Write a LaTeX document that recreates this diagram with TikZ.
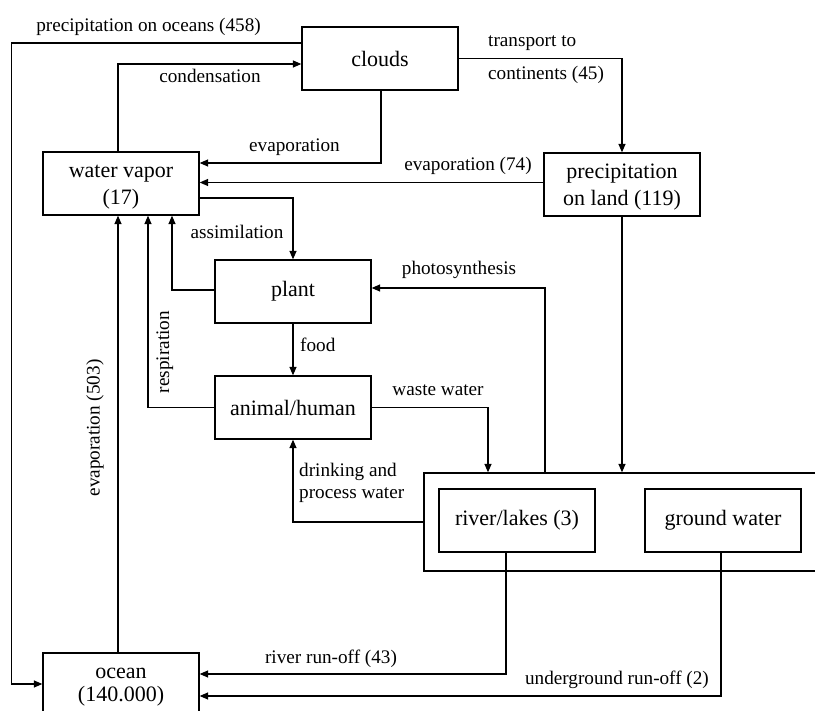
\documentclass[tikz,border=0pt]{standalone}
\usepackage{fontspec}
\setmainfont{Liberation Serif}
\usetikzlibrary{arrows.meta}
\newcommand{\topstrut}{\rule{0pt}{20pt}}
\tikzset{
  box/.style={draw, line width=1.3pt, minimum width=156pt, minimum height=63pt, inner sep=0pt, align=center, font=\fontsize{22}{26.5}\selectfont},
  lab/.style={inner sep=0pt, font=\fontsize{19.2}{23}\selectfont},
  arr/.style={line width=1.3pt, -{Triangle[length=8.5pt,width=7pt]}}
}
\begin{document}
\begin{tikzpicture}[x=1pt,y=-1pt]
\clip (0,0) rectangle (815,711);
\fill[white] (0,0) rectangle (815,711);
% nodes
\node[box] (clouds) at (380,58.5) {clouds};
\node[box] (wv) at (121,183.5) {\topstrut water vapor\\(17)};
\node[box] (pol) at (622,184.5) {\topstrut precipitation\\on land (119)};
\node[box] (plant) at (293,291.5) {plant};
\node[box] (animal) at (293,407.5) {animal/human};
\node[draw, line width=1.3pt, minimum width=392pt, minimum height=98pt, inner sep=0pt] (outer) at (620,522) {};
\node[box] (river) at (517,520.5) {river/lakes (3)};
\node[box] (ground) at (723,520.5) {ground water};
\node[box, minimum height=69pt, font=\fontsize{22}{23}\selectfont] (ocean) at (121,687.5) {ocean\\(140.000)};
% connectors
\draw[arr] ([yshift=15.5pt]clouds.west) -| ([xshift=-31pt,yshift=3.5pt]ocean.west) -- ([yshift=3.5pt]ocean.west);
\draw[arr] ([xshift=-3pt]wv.north) |- ([yshift=-5.5pt]clouds.west);
\draw[arr] ([xshift=1pt]clouds.south) |- ([yshift=20.5pt]wv.east);
\draw[arr] ([yshift=2pt]pol.west) -- ([yshift=2pt]pol.west -| wv.east);
\draw[arr] (clouds.east) -| (pol.north);
\draw[arr] ([yshift=-14.5pt]wv.east) -| (plant.north);
\draw[arr] ([yshift=1.5pt]plant.west) -| ([xshift=51pt]wv.south);
\draw[arr] (animal.west) -| ([xshift=27pt]wv.south);
\draw[arr] ([xshift=-3pt]ocean.north) -- ([xshift=-3pt]wv.south);
\draw[arr] (plant.south) -- (animal.north);
\draw[arr] (animal.east) -| ([xshift=-132pt]outer.north);
\draw[arr] ([xshift=-75pt]outer.north) |- ([yshift=3.5pt]plant.east);
\draw[arr] (pol.south) -- (pol.south |- outer.north);
\draw[arr] (outer.west) -| (animal.south);
\draw[arr] ([xshift=-11pt]river.south) |- ([yshift=13.5pt]ocean.east);
\draw[arr] ([xshift=-2pt]ground.south) |- ([yshift=-8.5pt]ocean.east);
% labels
\node[lab, anchor=base] (l1) at (148.5,32) {precipitation on oceans (458)};
\node[lab, anchor=base] (l2) at (210,83) {condensation};
\node[lab, anchor=base] (l3) at (294.5,152) {evaporation};
\node[lab, anchor=base] (l4) at (468,171) {evaporation (74)};
\node[lab, anchor=base west] (l5) at (488,47) {transport to};
\node[lab, anchor=base west] (l6) at (488,80) {continents (45)};
\node[lab, anchor=base] (l7) at (237,239) {assimilation};
\node[lab, anchor=base] (l8) at (459,275) {photosynthesis};
\node[lab, anchor=base west] (l9) at (300,352) {food};
\node[lab, anchor=base] (l10) at (438,396) {waste water};
\node[lab, anchor=base, rotate=90] (l11) at (169,352) {respiration};
\node[lab, anchor=base, rotate=90] (l12) at (99.5,428) {evaporation (503)};
\node[lab, anchor=base west] (l13) at (299,477) {drinking and};
\node[lab, anchor=base west] (l14) at (299,499) {process water};
\node[lab, anchor=base] (l15) at (331,663) {river run-off (43)};
\node[lab, anchor=base] (l16) at (617,684) {underground run-off (2)};
\end{tikzpicture}
\end{document}
